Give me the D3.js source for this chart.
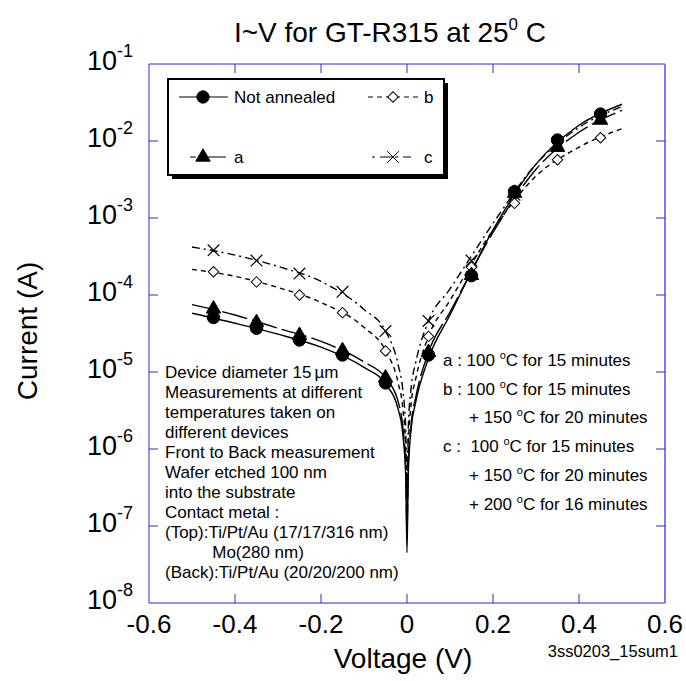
<!DOCTYPE html>
<html>
<head>
<meta charset="utf-8">
<script src="https://cdn.jsdelivr.net/npm/d3@7"></script>
<style>
  html, body { margin: 0; padding: 0; background: #fff; }
  svg { font-family: "Liberation Sans", Arial, sans-serif; display: block; }
</style>
</head>
<body>
<div id="main"></div>
<script>
// measured points (V, A)
const markerVoltages = [-0.45, -0.35, -0.25, -0.15, -0.05, 0.05, 0.15, 0.25, 0.35, 0.45];
const notAnnealed = [5.1e-5, 3.7e-5, 2.6e-5, 1.66e-5, 7.2e-6, 1.66e-5, 1.78e-4, 2.2e-3, 1.03e-2, 2.24e-2];
const seriesA = [6.6e-5, 4.4e-5, 3.0e-5, 1.9e-5, 8.4e-6, 1.8e-5, 1.8e-4, 2.1e-3, 8.3e-3, 1.87e-2];
const seriesB = [2.0e-4, 1.48e-4, 1.0e-4, 5.9e-5, 1.87e-5, 2.9e-5, 2.3e-4, 1.55e-3, 5.7e-3, 1.1e-2];
const seriesC = [3.8e-4, 2.8e-4, 1.9e-4, 1.1e-4, 3.4e-5, 4.6e-5, 2.8e-4, 2.0e-3, 9.5e-3, 2.0e-2];

// fitted curves
const curveVoltages = [-0.5, -0.4, -0.3, -0.2, -0.1, -0.05, -0.02, -0.01, -0.003, 0, 0.003, 0.01, 0.02, 0.05, 0.1, 0.2, 0.3, 0.4, 0.5];
const fitNotAnnealed = [5.8e-5, 4.3e-5, 3.1e-5, 2.1e-5, 1.15e-5, 7e-6, 3.2e-6, 1.6e-6, 4.5e-7, 4.5e-8, 5e-7, 1.9e-6, 4e-6, 1.5e-5, 5.5e-5, 7e-4, 5e-3, 1.6e-2, 3.0e-2];
const fitA = [7.5e-5, 5.5e-5, 3.7e-5, 2.5e-5, 1.35e-5, 8.4e-6, 4e-6, 2e-6, 6e-7, 8e-8, 6e-7, 2.2e-6, 4.6e-6, 1.8e-5, 6e-5, 6.5e-4, 4.3e-3, 1.3e-2, 2.5e-2];
const fitB = [2.15e-4, 1.75e-4, 1.25e-4, 8e-5, 3.8e-5, 1.9e-5, 7e-6, 3.5e-6, 1e-6, 1.5e-7, 1.1e-6, 4e-6, 8e-6, 2.9e-5, 8.5e-5, 7e-4, 3.5e-3, 8.3e-3, 1.45e-2];
const fitC = [4.2e-4, 3.3e-4, 2.35e-4, 1.5e-4, 6.5e-5, 3.4e-5, 1.2e-5, 6e-6, 1.8e-6, 2.5e-7, 1.9e-6, 6.5e-6, 1.3e-5, 4.6e-5, 1.2e-4, 8.5e-4, 5e-3, 1.5e-2, 2.8e-2];

const xTicks = [-0.6, -0.4, -0.2, 0, 0.2, 0.4, 0.6];
const xTickLabels = ["-0.6", "-0.4", "-0.2", "0", "0.2", "0.4", "0.6"];
const yExponents = [-1, -2, -3, -4, -5, -6, -7, -8];

const noteLines = ["Device diameter 15", "Measurements at different", "temperatures taken on",
  "different devices", "Front to Back measurement", "Wafer etched 100 nm", "into the substrate",
  "Contact metal :", "(Top):Ti/Pt/Au (17/17/316 nm)", "          Mo(280 nm)", "(Back):Ti/Pt/Au (20/20/200 nm)"];

function createChart() {
    d3.select("#main svg").remove();
    const width = 686, height = 681;
    const svg = d3.select("#main").append("svg")
        .attr("width", width)
        .attr("height", height);

    const left = 149, right = 665, top = 64, bottom = 603;
    const x = d3.scaleLinear().domain([-0.6, 0.6]).range([left, right]);
    const y = d3.scaleLog().domain([1e-8, 1e-1]).range([bottom, top]);

    // title
    const title = svg.append("text")
        .attr("x", 390).attr("y", 42)
        .attr("text-anchor", "middle")
        .attr("font-size", 28);
    title.append("tspan").text("I~V for GT-R315 at 25");
    title.append("tspan").attr("font-size", 17).attr("dy", -12).text("0");
    title.append("tspan").attr("dy", 12).text(" C");

    // frame with inward ticks
    const frameColor = "#2a2ad8";
    const g = svg.append("g");
    g.append("line").attr("x1", left).attr("x2", right).attr("y1", top).attr("y2", top).attr("stroke", frameColor);
    g.append("line").attr("x1", left).attr("x2", right).attr("y1", bottom).attr("y2", bottom).attr("stroke", frameColor);
    g.append("line").attr("x1", left).attr("x2", left).attr("y1", top).attr("y2", bottom).attr("stroke", frameColor);
    g.append("line").attr("x1", right).attr("x2", right).attr("y1", top).attr("y2", bottom).attr("stroke", "#7777ff").attr("stroke-width", 2);

    const tl = 9;
    xTicks.slice(1, -1).forEach(v => {
        g.append("line").attr("x1", x(v)).attr("x2", x(v)).attr("y1", top).attr("y2", top + tl).attr("stroke", frameColor);
        g.append("line").attr("x1", x(v)).attr("x2", x(v)).attr("y1", bottom).attr("y2", bottom - tl).attr("stroke", frameColor);
    });
    yExponents.slice(1, -1).forEach(e => {
        const yy = y(Math.pow(10, e));
        g.append("line").attr("x1", left).attr("x2", left + tl).attr("y1", yy).attr("y2", yy).attr("stroke", frameColor);
        g.append("line").attr("x1", right).attr("x2", right - tl).attr("y1", yy).attr("y2", yy).attr("stroke", frameColor);
    });

    // tick labels
    xTicks.forEach((v, i) => {
        svg.append("text").attr("x", x(v)).attr("y", 633)
            .attr("text-anchor", "middle").attr("font-size", 26)
            .text(xTickLabels[i]);
    });
    yExponents.forEach(e => {
        const t = svg.append("text").attr("x", 133).attr("y", y(Math.pow(10, e)) + 6)
            .attr("text-anchor", "end").attr("font-size", 27);
        t.append("tspan").text("10");
        t.append("tspan").attr("font-size", 18).attr("dy", -13).text(e);
    });

    // axis titles
    svg.append("text").attr("x", 403).attr("y", 668)
        .attr("text-anchor", "middle").attr("font-size", 28).text("Voltage (V)");
    svg.append("text").attr("transform", "translate(37,331) rotate(-90)")
        .attr("text-anchor", "middle").attr("font-size", 28).text("Current (A)");
    svg.append("text").attr("x", 678).attr("y", 657)
        .attr("text-anchor", "end").attr("font-size", 16.5).text("3ss0203_15sum1");

    // curves
    const line = d3.line()
        .x((d, i) => x(curveVoltages[i]))
        .y(d => y(d))
        .curve(d3.curveMonotoneX);
    const curves = [
        { data: fitC, dash: "8,4,2,4" },
        { data: fitB, dash: "5,4" },
        { data: fitA, dash: "26,5" },
        { data: fitNotAnnealed, dash: null }
    ];
    curves.forEach(c => {
        svg.append("path").attr("d", line(c.data))
            .attr("fill", "none").attr("stroke", "#000").attr("stroke-width", 1.4)
            .attr("stroke-dasharray", c.dash);
    });

    // markers
    const sym = {
        circle: d3.symbol().type(d3.symbolCircle).size(120),
        triangle: d3.symbol().type(d3.symbolTriangle).size(90),
        diamond: d3.symbol().type(d3.symbolSquare).size(55),
        cross: d3.symbol().type(d3.symbolX).size(90)
    };
    function drawMarkers(vals, kind) {
        svg.append("g").selectAll("path").data(vals).enter().append("path")
            .attr("transform", (d, i) => {
                const tr = `translate(${x(markerVoltages[i])},${y(d)})`;
                return kind === "diamond" ? tr + " rotate(45)" : tr;
            })
            .attr("d", sym[kind])
            .attr("fill", kind === "diamond" ? "#fff" : (kind === "cross" ? "none" : "#000"))
            .attr("stroke", "#000")
            .attr("stroke-width", kind === "cross" ? 1.2 : 1);
    }
    drawMarkers(seriesC, "cross");
    drawMarkers(seriesB, "diamond");
    drawMarkers(seriesA, "triangle");
    drawMarkers(notAnnealed, "circle");

    // legend box with shadow
    const lx = 168, ly = 79, lw = 276, lh = 96;
    svg.append("rect").attr("x", lx + 4).attr("y", ly + 4).attr("width", lw).attr("height", lh).attr("fill", "#000");
    svg.append("rect").attr("x", lx).attr("y", ly).attr("width", lw).attr("height", lh)
        .attr("fill", "#fff").attr("stroke", "#000").attr("stroke-width", 2);

    const legendItems = [
        { label: "Not annealed", kind: "circle", dash: null, x1: 179, x2: 228, mx: 203, tx: 234, ly: 97 },
        { label: "b", kind: "diamond", dash: "5,4", x1: 368, x2: 420, mx: 393, tx: 424, ly: 97 },
        { label: "a", kind: "triangle", dash: "6,3,30", x1: 190, x2: 226, mx: 203, tx: 234, ly: 157 },
        { label: "c", kind: "cross", dash: "3,5,12,3", x1: 372, x2: 411, mx: 393, tx: 424, ly: 157 }
    ];
    legendItems.forEach(it => {
        svg.append("line").attr("x1", it.x1).attr("x2", it.x2).attr("y1", it.ly).attr("y2", it.ly)
            .attr("stroke", "#000").attr("stroke-width", 1.2).attr("stroke-dasharray", it.dash);
        svg.append("path")
            .attr("transform", `translate(${it.mx},${it.ly})` + (it.kind === "diamond" ? " rotate(45)" : ""))
            .attr("d", sym[it.kind])
            .attr("fill", it.kind === "diamond" ? "#fff" : (it.kind === "cross" ? "none" : "#000"))
            .attr("stroke", "#000");
        svg.append("text").attr("x", it.tx).attr("y", it.ly + 6).attr("font-size", 17).text(it.label);
    });

    // notes on the left
    const notes = svg.append("g").selectAll("text").data(noteLines).enter().append("text")
        .attr("x", 165).attr("y", (d, i) => 378 + i * 20)
        .attr("font-size", 17)
        .style("white-space", "pre")
        .text(d => d);
    // micro sign set a little apart, as in the original symbol font
    notes.filter((d, i) => i === 0).append("tspan").attr("dx", 3).text("\u00b5m");

    // annealing notes on the right
    const anneal = [
        { x: 443, y: 366, pre: "a : 100 ", post: "C for 15 minutes" },
        { x: 443, y: 395, pre: "b : 100 ", post: "C for 15 minutes" },
        { x: 469, y: 423, pre: "+ 150 ", post: "C for 20 minutes" },
        { x: 443, y: 452, pre: "c :  100 ", post: "C for 15 minutes" },
        { x: 469, y: 481, pre: "+ 150 ", post: "C for 20 minutes" },
        { x: 469, y: 510, pre: "+ 200 ", post: "C for 16 minutes" }
    ];
    anneal.forEach(a => {
        const t = svg.append("text").attr("x", a.x).attr("y", a.y).attr("font-size", 17)
            .style("white-space", "pre");
        t.append("tspan").text(a.pre);
        t.append("tspan").attr("font-size", 11).attr("dy", -7).text("o");
        t.append("tspan").attr("dy", 7).text(a.post);
    });
}

document.addEventListener("DOMContentLoaded", function() {
    createChart();
});
</script>
</body>
</html>
